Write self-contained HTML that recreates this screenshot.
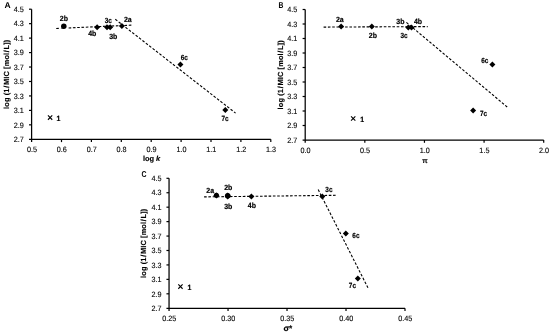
<!DOCTYPE html>
<html><head><meta charset="utf-8"><title>Figure</title>
<style>
html,body{margin:0;padding:0;background:#fff;}
svg{display:block;font-family:"Liberation Sans", sans-serif;text-rendering:geometricPrecision;}
</style></head>
<body>
<svg width="550" height="332" viewBox="0 0 550 332">
<rect width="550" height="332" fill="#fff"/>
<g>
<path d="M31.6 9.2V142.10000000000002M29.0 139.3H270.8" stroke="#000" stroke-width="1.25" fill="none"/>
<path d="M29.0 9.20H31.6" stroke="#000" stroke-width="1.2"/>
<text transform="translate(23.70 11.90) scale(0.94 1)" font-size="7.7" font-weight="normal" text-anchor="end" fill="#000" stroke="#000" stroke-width="0.12">4.5</text>
<path d="M29.0 23.66H31.6" stroke="#000" stroke-width="1.2"/>
<text transform="translate(23.70 26.36) scale(0.94 1)" font-size="7.7" font-weight="normal" text-anchor="end" fill="#000" stroke="#000" stroke-width="0.12">4.3</text>
<path d="M29.0 38.11H31.6" stroke="#000" stroke-width="1.2"/>
<text transform="translate(23.70 40.81) scale(0.94 1)" font-size="7.7" font-weight="normal" text-anchor="end" fill="#000" stroke="#000" stroke-width="0.12">4.1</text>
<path d="M29.0 52.57H31.6" stroke="#000" stroke-width="1.2"/>
<text transform="translate(23.70 55.27) scale(0.94 1)" font-size="7.7" font-weight="normal" text-anchor="end" fill="#000" stroke="#000" stroke-width="0.12">3.9</text>
<path d="M29.0 67.02H31.6" stroke="#000" stroke-width="1.2"/>
<text transform="translate(23.70 69.72) scale(0.94 1)" font-size="7.7" font-weight="normal" text-anchor="end" fill="#000" stroke="#000" stroke-width="0.12">3.7</text>
<path d="M29.0 81.48H31.6" stroke="#000" stroke-width="1.2"/>
<text transform="translate(23.70 84.18) scale(0.94 1)" font-size="7.7" font-weight="normal" text-anchor="end" fill="#000" stroke="#000" stroke-width="0.12">3.5</text>
<path d="M29.0 95.93H31.6" stroke="#000" stroke-width="1.2"/>
<text transform="translate(23.70 98.63) scale(0.94 1)" font-size="7.7" font-weight="normal" text-anchor="end" fill="#000" stroke="#000" stroke-width="0.12">3.3</text>
<path d="M29.0 110.39H31.6" stroke="#000" stroke-width="1.2"/>
<text transform="translate(23.70 113.09) scale(0.94 1)" font-size="7.7" font-weight="normal" text-anchor="end" fill="#000" stroke="#000" stroke-width="0.12">3.1</text>
<path d="M29.0 124.84H31.6" stroke="#000" stroke-width="1.2"/>
<text transform="translate(23.70 127.54) scale(0.94 1)" font-size="7.7" font-weight="normal" text-anchor="end" fill="#000" stroke="#000" stroke-width="0.12">2.9</text>
<text transform="translate(23.70 142.00) scale(0.94 1)" font-size="7.7" font-weight="normal" text-anchor="end" fill="#000" stroke="#000" stroke-width="0.12">2.7</text>
<text transform="translate(31.90 152.40) scale(0.94 1)" font-size="7.7" font-weight="normal" text-anchor="middle" fill="#000" stroke="#000" stroke-width="0.12">0.5</text>
<path d="M61.50 139.3V142.10000000000002" stroke="#000" stroke-width="1.2"/>
<text transform="translate(61.80 152.40) scale(0.94 1)" font-size="7.7" font-weight="normal" text-anchor="middle" fill="#000" stroke="#000" stroke-width="0.12">0.6</text>
<path d="M91.40 139.3V142.10000000000002" stroke="#000" stroke-width="1.2"/>
<text transform="translate(91.70 152.40) scale(0.94 1)" font-size="7.7" font-weight="normal" text-anchor="middle" fill="#000" stroke="#000" stroke-width="0.12">0.7</text>
<path d="M121.30 139.3V142.10000000000002" stroke="#000" stroke-width="1.2"/>
<text transform="translate(121.60 152.40) scale(0.94 1)" font-size="7.7" font-weight="normal" text-anchor="middle" fill="#000" stroke="#000" stroke-width="0.12">0.8</text>
<path d="M151.20 139.3V142.10000000000002" stroke="#000" stroke-width="1.2"/>
<text transform="translate(151.50 152.40) scale(0.94 1)" font-size="7.7" font-weight="normal" text-anchor="middle" fill="#000" stroke="#000" stroke-width="0.12">0.9</text>
<path d="M181.10 139.3V142.10000000000002" stroke="#000" stroke-width="1.2"/>
<text transform="translate(181.40 152.40) scale(0.94 1)" font-size="7.7" font-weight="normal" text-anchor="middle" fill="#000" stroke="#000" stroke-width="0.12">1.0</text>
<path d="M211.00 139.3V142.10000000000002" stroke="#000" stroke-width="1.2"/>
<text transform="translate(211.30 152.40) scale(0.94 1)" font-size="7.7" font-weight="normal" text-anchor="middle" fill="#000" stroke="#000" stroke-width="0.12">1.1</text>
<path d="M240.90 139.3V142.10000000000002" stroke="#000" stroke-width="1.2"/>
<text transform="translate(241.20 152.40) scale(0.94 1)" font-size="7.7" font-weight="normal" text-anchor="middle" fill="#000" stroke="#000" stroke-width="0.12">1.2</text>
<path d="M270.80 139.3V142.10000000000002" stroke="#000" stroke-width="1.2"/>
<text transform="translate(271.10 152.40) scale(0.94 1)" font-size="7.7" font-weight="normal" text-anchor="middle" fill="#000" stroke="#000" stroke-width="0.12">1.3</text>
<text transform="translate(9.35 74.25) rotate(-90)" font-size="7.4" font-weight="bold" stroke="#000" stroke-width="0.15" text-anchor="middle" letter-spacing="0.13">log (1<tspan dx="0.6">/</tspan><tspan dx="0.6">MIC [mol</tspan><tspan dx="0.6">/</tspan><tspan dx="0.6">L])</tspan></text>
<text x="151.6" y="161.4" font-size="7.4" font-weight="bold" stroke="#000" stroke-width="0.15" text-anchor="middle">log <tspan font-style="italic">k</tspan></text>
<text x="4.50" y="8.00" font-size="8.5" font-weight="bold" text-anchor="start" >A</text>
<path d="M56.2 28.5L58.9 28.38" stroke="#000" stroke-width="1.1" stroke-dasharray="2.6 1.7" fill="none"/>
<path d="M68.6 27.95L132.2 25.1" stroke="#000" stroke-width="1.1" stroke-dasharray="2.6 1.7" fill="none"/>
<path d="M115.3 19.3L235.6 113.1" stroke="#000" stroke-width="1.1" stroke-dasharray="2.6 1.7" fill="none"/>
<path d="M60.6 28.7L63.2 26.2L64.6 28.7Z" fill="#555"/>
<path d="M97.10 24.30L100.10 27.30L97.10 30.30L94.10 27.30Z" fill="#000"/>
<path d="M107.00 24.30L110.00 27.30L107.00 30.30L104.00 27.30Z" fill="#000"/>
<path d="M110.20 24.30L113.20 27.30L110.20 30.30L107.20 27.30Z" fill="#000"/>
<path d="M121.90 23.10L124.90 26.10L121.90 29.10L118.90 26.10Z" fill="#000"/>
<path d="M180.45 61.40L183.45 64.40L180.45 67.40L177.45 64.40Z" fill="#000"/>
<path d="M225.30 107.00L228.30 110.00L225.30 113.00L222.30 110.00Z" fill="#000"/>
<circle cx="63.8" cy="26.3" r="2.75" fill="#000"/>
<path d="M47.95 115.45L52.25 119.75M47.95 119.75L52.25 115.45" stroke="#000" stroke-width="1.1" fill="none"/>
<text transform="translate(63.90 20.70) scale(0.93 1)" font-size="7.5" font-weight="bold" text-anchor="middle" stroke="#000" stroke-width="0.2">2b</text>
<text transform="translate(92.30 35.60) scale(0.93 1)" font-size="7.5" font-weight="bold" text-anchor="middle" stroke="#000" stroke-width="0.2">4b</text>
<text transform="translate(108.20 22.50) scale(0.85 1)" font-size="7.5" font-weight="bold" text-anchor="middle" stroke="#000" stroke-width="0.2">3c</text>
<text transform="translate(113.20 38.70) scale(0.93 1)" font-size="7.5" font-weight="bold" text-anchor="middle" stroke="#000" stroke-width="0.2">3b</text>
<text transform="translate(127.80 21.60) scale(0.93 1)" font-size="7.5" font-weight="bold" text-anchor="middle" stroke="#000" stroke-width="0.2">2a</text>
<text transform="translate(184.30 60.00) scale(0.85 1)" font-size="7.5" font-weight="bold" text-anchor="middle" stroke="#000" stroke-width="0.2">6c</text>
<text transform="translate(225.00 121.40) scale(0.85 1)" font-size="7.5" font-weight="bold" text-anchor="middle" stroke="#000" stroke-width="0.2">7c</text>
<text transform="translate(58.40 120.70) scale(0.93 1)" font-size="7.5" font-weight="bold" text-anchor="middle" stroke="#000" stroke-width="0.2">1</text>
<path d="M305.2 9.5V142.8M302.59999999999997 140.0H543.7" stroke="#000" stroke-width="1.25" fill="none"/>
<path d="M302.59999999999997 9.50H305.2" stroke="#000" stroke-width="1.2"/>
<text transform="translate(297.30 12.20) scale(0.94 1)" font-size="7.7" font-weight="normal" text-anchor="end" fill="#000" stroke="#000" stroke-width="0.12">4.5</text>
<path d="M302.59999999999997 24.00H305.2" stroke="#000" stroke-width="1.2"/>
<text transform="translate(297.30 26.70) scale(0.94 1)" font-size="7.7" font-weight="normal" text-anchor="end" fill="#000" stroke="#000" stroke-width="0.12">4.3</text>
<path d="M302.59999999999997 38.50H305.2" stroke="#000" stroke-width="1.2"/>
<text transform="translate(297.30 41.20) scale(0.94 1)" font-size="7.7" font-weight="normal" text-anchor="end" fill="#000" stroke="#000" stroke-width="0.12">4.1</text>
<path d="M302.59999999999997 53.00H305.2" stroke="#000" stroke-width="1.2"/>
<text transform="translate(297.30 55.70) scale(0.94 1)" font-size="7.7" font-weight="normal" text-anchor="end" fill="#000" stroke="#000" stroke-width="0.12">3.9</text>
<path d="M302.59999999999997 67.50H305.2" stroke="#000" stroke-width="1.2"/>
<text transform="translate(297.30 70.20) scale(0.94 1)" font-size="7.7" font-weight="normal" text-anchor="end" fill="#000" stroke="#000" stroke-width="0.12">3.7</text>
<path d="M302.59999999999997 82.00H305.2" stroke="#000" stroke-width="1.2"/>
<text transform="translate(297.30 84.70) scale(0.94 1)" font-size="7.7" font-weight="normal" text-anchor="end" fill="#000" stroke="#000" stroke-width="0.12">3.5</text>
<path d="M302.59999999999997 96.50H305.2" stroke="#000" stroke-width="1.2"/>
<text transform="translate(297.30 99.20) scale(0.94 1)" font-size="7.7" font-weight="normal" text-anchor="end" fill="#000" stroke="#000" stroke-width="0.12">3.3</text>
<path d="M302.59999999999997 111.00H305.2" stroke="#000" stroke-width="1.2"/>
<text transform="translate(297.30 113.70) scale(0.94 1)" font-size="7.7" font-weight="normal" text-anchor="end" fill="#000" stroke="#000" stroke-width="0.12">3.1</text>
<path d="M302.59999999999997 125.50H305.2" stroke="#000" stroke-width="1.2"/>
<text transform="translate(297.30 128.20) scale(0.94 1)" font-size="7.7" font-weight="normal" text-anchor="end" fill="#000" stroke="#000" stroke-width="0.12">2.9</text>
<text transform="translate(297.30 142.70) scale(0.94 1)" font-size="7.7" font-weight="normal" text-anchor="end" fill="#000" stroke="#000" stroke-width="0.12">2.7</text>
<text transform="translate(305.50 153.10) scale(0.94 1)" font-size="7.7" font-weight="normal" text-anchor="middle" fill="#000" stroke="#000" stroke-width="0.12">0.0</text>
<path d="M364.82 140.0V142.8" stroke="#000" stroke-width="1.2"/>
<text transform="translate(365.12 153.10) scale(0.94 1)" font-size="7.7" font-weight="normal" text-anchor="middle" fill="#000" stroke="#000" stroke-width="0.12">0.5</text>
<path d="M424.45 140.0V142.8" stroke="#000" stroke-width="1.2"/>
<text transform="translate(424.75 153.10) scale(0.94 1)" font-size="7.7" font-weight="normal" text-anchor="middle" fill="#000" stroke="#000" stroke-width="0.12">1.0</text>
<path d="M484.08 140.0V142.8" stroke="#000" stroke-width="1.2"/>
<text transform="translate(484.38 153.10) scale(0.94 1)" font-size="7.7" font-weight="normal" text-anchor="middle" fill="#000" stroke="#000" stroke-width="0.12">1.5</text>
<path d="M543.70 140.0V142.8" stroke="#000" stroke-width="1.2"/>
<text transform="translate(544.00 153.10) scale(0.94 1)" font-size="7.7" font-weight="normal" text-anchor="middle" fill="#000" stroke="#000" stroke-width="0.12">2.0</text>
<text transform="translate(283.04999999999995 74.75) rotate(-90)" font-size="7.4" font-weight="bold" stroke="#000" stroke-width="0.15" text-anchor="middle" letter-spacing="0.13">log (1<tspan dx="0.6">/</tspan><tspan dx="0.6">MIC [mol</tspan><tspan dx="0.6">/</tspan><tspan dx="0.6">L])</tspan></text>
<text x="425" y="162.7" font-size="7.0" font-weight="bold" stroke="#000" stroke-width="0.15" text-anchor="middle">π</text>
<text transform="translate(278.40 7.80) scale(0.8 1)" font-size="8.5" font-weight="bold" text-anchor="start" >B</text>
<path d="M323.6 27.1L427.7 26.6" stroke="#000" stroke-width="1.1" stroke-dasharray="2.6 1.7" fill="none"/>
<path d="M406.4 22.4L507.8 107.5" stroke="#000" stroke-width="1.1" stroke-dasharray="2.6 1.7" fill="none"/>
<path d="M341.10 23.40L344.10 26.40L341.10 29.40L338.10 26.40Z" fill="#000"/>
<path d="M371.80 23.50L374.80 26.50L371.80 29.50L368.80 26.50Z" fill="#000"/>
<path d="M408.30 24.60L411.30 27.60L408.30 30.60L405.30 27.60Z" fill="#000"/>
<path d="M411.50 24.60L414.50 27.60L411.50 30.60L408.50 27.60Z" fill="#000"/>
<path d="M492.40 61.50L495.40 64.50L492.40 67.50L489.40 64.50Z" fill="#000"/>
<path d="M473.10 107.50L476.10 110.50L473.10 113.50L470.10 110.50Z" fill="#000"/>
<path d="M351.05 116.35L355.35 120.65M351.05 120.65L355.35 116.35" stroke="#000" stroke-width="1.1" fill="none"/>
<text transform="translate(339.80 21.80) scale(0.93 1)" font-size="7.5" font-weight="bold" text-anchor="middle" stroke="#000" stroke-width="0.2">2a</text>
<text transform="translate(372.90 37.70) scale(0.93 1)" font-size="7.5" font-weight="bold" text-anchor="middle" stroke="#000" stroke-width="0.2">2b</text>
<text transform="translate(400.40 23.50) scale(0.93 1)" font-size="7.5" font-weight="bold" text-anchor="middle" stroke="#000" stroke-width="0.2">3b</text>
<text transform="translate(404.10 38.00) scale(0.85 1)" font-size="7.5" font-weight="bold" text-anchor="middle" stroke="#000" stroke-width="0.2">3c</text>
<text transform="translate(418.00 23.50) scale(0.93 1)" font-size="7.5" font-weight="bold" text-anchor="middle" stroke="#000" stroke-width="0.2">4b</text>
<text transform="translate(484.80 62.70) scale(0.85 1)" font-size="7.5" font-weight="bold" text-anchor="middle" stroke="#000" stroke-width="0.2">6c</text>
<text transform="translate(483.60 115.90) scale(0.85 1)" font-size="7.5" font-weight="bold" text-anchor="middle" stroke="#000" stroke-width="0.2">7c</text>
<text transform="translate(362.20 121.60) scale(0.93 1)" font-size="7.5" font-weight="bold" text-anchor="middle" stroke="#000" stroke-width="0.2">1</text>
<path d="M169.05 178.3V311.05M166.45000000000002 308.25H405" stroke="#000" stroke-width="1.25" fill="none"/>
<path d="M166.45000000000002 178.30H169.05" stroke="#000" stroke-width="1.2"/>
<text transform="translate(161.55 181.00) scale(0.94 1)" font-size="7.7" font-weight="normal" text-anchor="end" fill="#000" stroke="#000" stroke-width="0.12">4.5</text>
<path d="M166.45000000000002 192.74H169.05" stroke="#000" stroke-width="1.2"/>
<text transform="translate(161.55 195.44) scale(0.94 1)" font-size="7.7" font-weight="normal" text-anchor="end" fill="#000" stroke="#000" stroke-width="0.12">4.3</text>
<path d="M166.45000000000002 207.18H169.05" stroke="#000" stroke-width="1.2"/>
<text transform="translate(161.55 209.88) scale(0.94 1)" font-size="7.7" font-weight="normal" text-anchor="end" fill="#000" stroke="#000" stroke-width="0.12">4.1</text>
<path d="M166.45000000000002 221.62H169.05" stroke="#000" stroke-width="1.2"/>
<text transform="translate(161.55 224.32) scale(0.94 1)" font-size="7.7" font-weight="normal" text-anchor="end" fill="#000" stroke="#000" stroke-width="0.12">3.9</text>
<path d="M166.45000000000002 236.06H169.05" stroke="#000" stroke-width="1.2"/>
<text transform="translate(161.55 238.76) scale(0.94 1)" font-size="7.7" font-weight="normal" text-anchor="end" fill="#000" stroke="#000" stroke-width="0.12">3.7</text>
<path d="M166.45000000000002 250.49H169.05" stroke="#000" stroke-width="1.2"/>
<text transform="translate(161.55 253.19) scale(0.94 1)" font-size="7.7" font-weight="normal" text-anchor="end" fill="#000" stroke="#000" stroke-width="0.12">3.5</text>
<path d="M166.45000000000002 264.93H169.05" stroke="#000" stroke-width="1.2"/>
<text transform="translate(161.55 267.63) scale(0.94 1)" font-size="7.7" font-weight="normal" text-anchor="end" fill="#000" stroke="#000" stroke-width="0.12">3.3</text>
<path d="M166.45000000000002 279.37H169.05" stroke="#000" stroke-width="1.2"/>
<text transform="translate(161.55 282.07) scale(0.94 1)" font-size="7.7" font-weight="normal" text-anchor="end" fill="#000" stroke="#000" stroke-width="0.12">3.1</text>
<path d="M166.45000000000002 293.81H169.05" stroke="#000" stroke-width="1.2"/>
<text transform="translate(161.55 296.51) scale(0.94 1)" font-size="7.7" font-weight="normal" text-anchor="end" fill="#000" stroke="#000" stroke-width="0.12">2.9</text>
<text transform="translate(161.55 310.95) scale(0.94 1)" font-size="7.7" font-weight="normal" text-anchor="end" fill="#000" stroke="#000" stroke-width="0.12">2.7</text>
<text transform="translate(169.35 321.35) scale(0.94 1)" font-size="7.7" font-weight="normal" text-anchor="middle" fill="#000" stroke="#000" stroke-width="0.12">0.25</text>
<path d="M228.04 308.25V311.05" stroke="#000" stroke-width="1.2"/>
<text transform="translate(228.34 321.35) scale(0.94 1)" font-size="7.7" font-weight="normal" text-anchor="middle" fill="#000" stroke="#000" stroke-width="0.12">0.30</text>
<path d="M287.02 308.25V311.05" stroke="#000" stroke-width="1.2"/>
<text transform="translate(287.32 321.35) scale(0.94 1)" font-size="7.7" font-weight="normal" text-anchor="middle" fill="#000" stroke="#000" stroke-width="0.12">0.35</text>
<path d="M346.01 308.25V311.05" stroke="#000" stroke-width="1.2"/>
<text transform="translate(346.31 321.35) scale(0.94 1)" font-size="7.7" font-weight="normal" text-anchor="middle" fill="#000" stroke="#000" stroke-width="0.12">0.40</text>
<path d="M405.00 308.25V311.05" stroke="#000" stroke-width="1.2"/>
<text transform="translate(405.30 321.35) scale(0.94 1)" font-size="7.7" font-weight="normal" text-anchor="middle" fill="#000" stroke="#000" stroke-width="0.12">0.45</text>
<text transform="translate(146.45000000000002 243.28) rotate(-90)" font-size="7.4" font-weight="bold" stroke="#000" stroke-width="0.15" text-anchor="middle" letter-spacing="0.13">log (1<tspan dx="0.6">/</tspan><tspan dx="0.6">MIC [mol</tspan><tspan dx="0.6">/</tspan><tspan dx="0.6">L])</tspan></text>
<text x="287.9" y="330.6" font-size="8.3" font-weight="bold" stroke="#000" stroke-width="0.15" text-anchor="middle">σ*</text>
<text transform="translate(141.50 177.40) scale(0.82 1)" font-size="8.5" font-weight="bold" text-anchor="start" >C</text>
<path d="M204.1 196.9L335.9 195.3" stroke="#000" stroke-width="1.1" stroke-dasharray="2.6 1.7" fill="none"/>
<path d="M318.2 189.6L368.2 288.3" stroke="#000" stroke-width="1.1" stroke-dasharray="2.6 1.7" fill="none"/>
<path d="M216.40 192.50L219.40 195.50L216.40 198.50L213.40 195.50Z" fill="#000"/>
<path d="M227.70 192.40L230.70 195.40L227.70 198.40L224.70 195.40Z" fill="#000"/>
<path d="M227.70 193.50L230.70 196.50L227.70 199.50L224.70 196.50Z" fill="#000"/>
<path d="M251.40 193.50L254.40 196.50L251.40 199.50L248.40 196.50Z" fill="#000"/>
<path d="M322.30 193.50L325.30 196.50L322.30 199.50L319.30 196.50Z" fill="#000"/>
<path d="M345.80 230.60L348.80 233.60L345.80 236.60L342.80 233.60Z" fill="#000"/>
<path d="M357.80 275.60L360.80 278.60L357.80 281.60L354.80 278.60Z" fill="#000"/>
<circle cx="216.4" cy="195.3" r="2.5" fill="#000"/>
<circle cx="227.7" cy="195.8" r="2.7" fill="#000"/>
<path d="M178.30 284.45L182.60 288.75M178.30 288.75L182.60 284.45" stroke="#000" stroke-width="1.1" fill="none"/>
<text transform="translate(210.20 192.50) scale(0.93 1)" font-size="7.5" font-weight="bold" text-anchor="middle" stroke="#000" stroke-width="0.2">2a</text>
<text transform="translate(228.20 189.80) scale(0.93 1)" font-size="7.5" font-weight="bold" text-anchor="middle" stroke="#000" stroke-width="0.2">2b</text>
<text transform="translate(228.20 208.60) scale(0.93 1)" font-size="7.5" font-weight="bold" text-anchor="middle" stroke="#000" stroke-width="0.2">3b</text>
<text transform="translate(251.90 208.40) scale(0.93 1)" font-size="7.5" font-weight="bold" text-anchor="middle" stroke="#000" stroke-width="0.2">4b</text>
<text transform="translate(328.90 191.80) scale(0.85 1)" font-size="7.5" font-weight="bold" text-anchor="middle" stroke="#000" stroke-width="0.2">3c</text>
<text transform="translate(355.90 238.20) scale(0.85 1)" font-size="7.5" font-weight="bold" text-anchor="middle" stroke="#000" stroke-width="0.2">6c</text>
<text transform="translate(352.40 287.70) scale(0.85 1)" font-size="7.5" font-weight="bold" text-anchor="middle" stroke="#000" stroke-width="0.2">7c</text>
<text transform="translate(189.40 289.50) scale(0.93 1)" font-size="7.5" font-weight="bold" text-anchor="middle" stroke="#000" stroke-width="0.2">1</text>
</g>
</svg>
</body></html>
